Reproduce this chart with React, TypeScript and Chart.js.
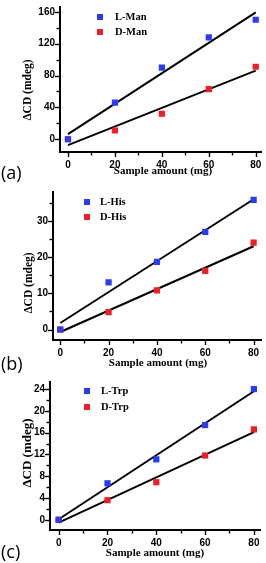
import React, { useEffect, useRef } from "react";
import { Chart, registerables } from "chart.js";
Chart.register(...registerables);

// ---------- data ----------
const sampleAmounts = [0, 20, 40, 60, 80];
const fitX = [0, 80];

const manL = [0, 46, 90, 128, 150];
const manD = [0, 11, 32, 63, 91];
const manFitL = [6.4, 159.2];
const manFitD = [-7.4, 86.2];

const hisL = [0, 13, 18.7, 27, 35.8];
const hisD = [0, 4.8, 10.8, 16.2, 24];
const hisFitL = [1.8, 36.0];
const hisFitD = [-0.7, 23.0];

const trpL = [0, 6.7, 11.1, 17.4, 24];
const trpD = [0, 3.6, 6.9, 11.8, 16.6];
const trpFitL = [0.1, 23.6];
const trpFitD = [-0.5, 16.1];

const legendA = ["L-Man", "D-Man"];
const legendB = ["L-His", "D-His"];
const legendC = ["L-Trp", "D-Trp"];
const panelLabels = ["(a)", "(b)", "(c)"];
const xTitle = "Sample amount (mg)";
const yTitle = "\u0394CD (mdeg)";

const BLUE = "#2a3cf2";
const RED = "#ee1d26";

type Panel = {
  top: number; height: number;
  left: number; right: number; areaTop: number; areaBottom: number;
  xMin: number; xMax: number; yMin: number; yMax: number;
  yStep: number; yMajor: number;
  L: number[]; D: number[]; fitL: number[]; fitD: number[];
  legend: string[]; legendX: number; legendY: number[]; legendTextX: number;
  label: string; labelX: number; labelY: number; labelSize: number;
  yTitleX: number; yTitleY: number; yTitleSize: number;
  xTitleX: number; xTitleY: number;
};

const panels: Panel[] = [
  {
    top: 0, height: 185, left: 60, right: 263, areaTop: 2, areaBottom: 152,
    xMin: -3.4, xMax: 82.5, yMin: -16, yMax: 166, yStep: 20, yMajor: 40,
    L: manL, D: manD, fitL: manFitL, fitD: manFitD,
    legend: legendA, legendX: 100, legendY: [17, 32], legendTextX: 115,
    label: panelLabels[0], labelX: 1, labelY: 174, labelSize: 18,
    yTitleX: 28, yTitleY: 90, yTitleSize: 11.5,
    xTitleX: 163, xTitleY: 171,
  },
  {
    top: 185, height: 190, left: 53, right: 263, areaTop: 2, areaBottom: 155,
    xMin: -3.0, xMax: 83.3, yMin: -2.9, yMax: 38, yStep: 5, yMajor: 10,
    L: hisL, D: hisD, fitL: hisFitL, fitD: hisFitD,
    legend: legendB, legendX: 87, legendY: [17, 32], legendTextX: 100,
    label: panelLabels[1], labelX: 1, labelY: 180, labelSize: 18,
    yTitleX: 29, yTitleY: 98, yTitleSize: 11.5,
    xTitleX: 158, xTitleY: 178,
  },
  {
    top: 375, height: 188, left: 50, right: 260, areaTop: 0, areaBottom: 155,
    xMin: -3.56, xMax: 82.5, yMin: -1.87, yMax: 25.3, yStep: 2, yMajor: 4,
    L: trpL, D: trpD, fitL: trpFitL, fitD: trpFitD,
    legend: legendC, legendX: 87, legendY: [16, 32], legendTextX: 101,
    label: panelLabels[2], labelX: 1, labelY: 178, labelSize: 18,
    yTitleX: 28, yTitleY: 78, yTitleSize: 13,
    xTitleX: 155, xTitleY: 178,
  },
];

const isMult = (v: number, m: number) => {
  const r = Math.abs(v / m - Math.round(v / m));
  return r < 1e-6;
};

function makeDecor(p: Panel) {
  return {
    id: "decor",
    afterDraw(chart: any) {
      const ctx = chart.ctx as CanvasRenderingContext2D;
      const xs = chart.scales.x;
      const ys = chart.scales.y;
      const area = chart.chartArea;
      ctx.save();
      ctx.strokeStyle = "#000";
      ctx.lineWidth = 1.4;
      for (const t of xs.ticks) {
        const px = Math.round(xs.getPixelForValue(t.value)) + 0.5;
        const len = isMult(t.value, 20) ? 4 : 2.5;
        ctx.beginPath();
        ctx.moveTo(px, area.bottom + 1);
        ctx.lineTo(px, area.bottom + 1 + len);
        ctx.stroke();
      }
      for (const t of ys.ticks) {
        const py = Math.round(ys.getPixelForValue(t.value)) + 0.5;
        const len = isMult(t.value, p.yMajor) ? 4 : 2.5;
        ctx.beginPath();
        ctx.moveTo(area.left - 1, py);
        ctx.lineTo(area.left - 1 - len, py);
        ctx.stroke();
      }
      // legend
      const colors = [BLUE, RED];
      ctx.font = "bold 10.5px 'Liberation Serif', 'Times New Roman', serif";
      ctx.textBaseline = "middle";
      ctx.textAlign = "left";
      p.legend.forEach((txt, i) => {
        ctx.fillStyle = colors[i];
        ctx.fillRect(p.legendX - 3, p.legendY[i] - 3, 6, 6);
        ctx.fillStyle = "#000";
        ctx.fillText(txt, p.legendTextX, p.legendY[i] + 0.5);
      });
      // x title
      ctx.font = "bold 11px 'Liberation Serif', 'Times New Roman', serif";
      ctx.textAlign = "center";
      ctx.fillText(xTitle, p.xTitleX, p.xTitleY);
      // y title
      ctx.save();
      ctx.translate(p.yTitleX, p.yTitleY);
      ctx.rotate(-Math.PI / 2);
      ctx.font = `bold ${p.yTitleSize}px 'Liberation Serif', 'Times New Roman', serif`;
      ctx.fillText(yTitle, 0, 0);
      ctx.restore();
      // panel label
      ctx.font = `${p.labelSize}px 'Open Sans', 'Liberation Sans', sans-serif`;
      ctx.textAlign = "left";
      ctx.fillText(p.label, p.labelX, p.labelY);
      ctx.restore();
    },
  };
}

function PanelChart({ p }: { p: Panel }) {
  const ref = useRef<HTMLCanvasElement | null>(null);
  useEffect(() => {
    if (!ref.current) return;
    const pts = (ys: number[]) => sampleAmounts.map((x, i) => ({ x, y: ys[i] }));
    const fit = (ys: number[]) => fitX.map((x, i) => ({ x, y: ys[i] }));
    const tickFont = { family: "'Liberation Sans', Arial, sans-serif", size: 10, weight: "bold" as const };
    const chart = new Chart(ref.current, {
      type: "scatter",
      data: {
        datasets: [
          { data: fit(p.fitL), showLine: true, borderColor: "#000", borderWidth: 2, pointRadius: 0, order: 2 },
          { data: fit(p.fitD), showLine: true, borderColor: "#000", borderWidth: 2, pointRadius: 0, order: 2 },
          { data: pts(p.L), pointStyle: "rect", pointRadius: 4.4, backgroundColor: BLUE, borderWidth: 0, order: 1 },
          { data: pts(p.D), pointStyle: "rect", pointRadius: 4.4, backgroundColor: RED, borderWidth: 0, order: 1 },
        ],
      },
      options: {
        responsive: false,
        animation: false,
        events: [],
        layout: { padding: { top: p.areaTop, right: 266 - p.right, left: 0, bottom: 0 } },
        plugins: { legend: { display: false }, tooltip: { enabled: false } },
        scales: {
          x: {
            type: "linear",
            min: p.xMin, max: p.xMax,
            afterFit: (s: any) => { s.height = p.height - p.areaBottom; },
            border: { display: true, color: "#000", width: 2 },
            grid: { display: true, drawOnChartArea: false, drawTicks: true, tickLength: 5, tickColor: "rgba(0,0,0,0)" },
            ticks: {
              stepSize: 10, includeBounds: false, autoSkip: false, maxRotation: 0,
              padding: 2, color: "#000", font: tickFont,
              callback: (v: any) => (isMult(Number(v), 20) ? String(v) : ""),
            },
          },
          y: {
            type: "linear",
            min: p.yMin, max: p.yMax,
            afterFit: (s: any) => { s.width = p.left; },
            border: { display: true, color: "#000", width: 2 },
            grid: { display: true, drawOnChartArea: false, drawTicks: true, tickLength: 4, tickColor: "rgba(0,0,0,0)" },
            ticks: {
              stepSize: p.yStep, includeBounds: false, autoSkip: false,
              padding: 1, color: "#000", font: tickFont,
              callback: (v: any) => (isMult(Number(v), p.yMajor) ? String(v) : ""),
            },
          },
        },
      },
      plugins: [makeDecor(p)],
    } as any);
    return () => chart.destroy();
  }, [p]);
  return (
    <div style={{ position: "absolute", left: 0, top: p.top, width: 266, height: p.height }}>
      <canvas ref={ref} width={266} height={p.height} style={{ display: "block" }} />
    </div>
  );
}

export default function App() {
  return (
    <div style={{ position: "absolute", left: 0, top: 0, width: 266, height: 563, background: "#fff" }}>
      {panels.map((p, i) => (
        <PanelChart key={i} p={p} />
      ))}
    </div>
  );
}
